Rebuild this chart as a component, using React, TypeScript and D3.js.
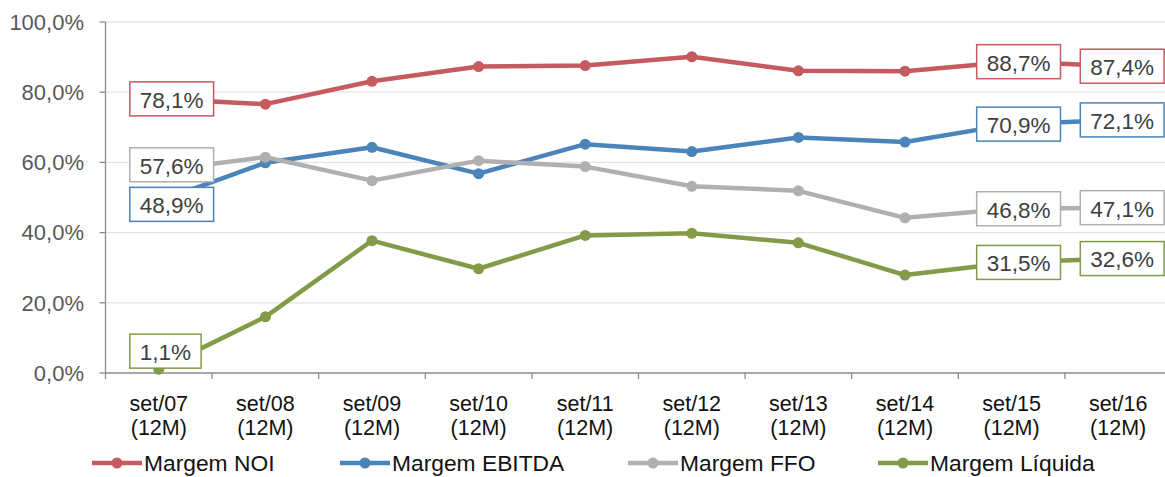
import React, { useEffect, useRef } from "react";
import * as d3 from "d3";

const categories = ["set/07", "set/08", "set/09", "set/10", "set/11", "set/12", "set/13", "set/14", "set/15", "set/16"];
const periodLabel = "(12M)";
const yTicks = [0, 20, 40, 60, 80, 100];

const margemNOI = [78.1, 76.6, 83.1, 87.3, 87.6, 90.1, 86.1, 86.0, 88.7, 87.4];
const margemEBITDA = [48.9, 59.9, 64.3, 56.8, 65.2, 63.1, 67.1, 65.8, 70.9, 72.1];
const margemFFO = [57.6, 61.5, 54.8, 60.5, 58.8, 53.2, 51.9, 44.2, 46.8, 47.1];
const margemLiquida = [1.1, 16.0, 37.7, 29.7, 39.2, 39.8, 37.1, 27.9, 31.5, 32.6];

const seriesNames = ["Margem NOI", "Margem EBITDA", "Margem FFO", "Margem Líquida"];
const seriesColors = ["#C55A5F", "#4A84BA", "#B0B0B0", "#819B48"];
const labeledIndices = [0, 8, 9];
// vertical nudge of the first label of each series (px)
const firstLabelDy = [0, 3, -6, -18];

const fmt = (v: number) => v.toFixed(1).replace(".", ",") + "%";

export default function App() {
  const ref = useRef<SVGSVGElement | null>(null);

  useEffect(() => {
    const svg = d3.select(ref.current);
    svg.selectAll("*").remove();
    const W = 1165;
    const left = 105.5, right = 1171.5, top = 22, bottom = 373;
    const font = "Liberation Sans, Arial, sans-serif";

    const x = d3.scaleBand<string>().domain(categories).range([left, right]).padding(0);
    const cx = (i: number) => (x(categories[i]) as number) + x.bandwidth() / 2;
    const y = d3.scaleLinear().domain([0, 100]).range([bottom, top]);

    // gridlines
    svg.append("g").selectAll("line").data(yTicks.filter((t) => t > 0)).join("line")
      .attr("x1", left).attr("x2", W).attr("y1", (d) => y(d)).attr("y2", (d) => y(d))
      .attr("stroke", "#E4E4E4").attr("stroke-width", 1.3);

    // y axis
    const axisColor = "#8C8C8C";
    svg.append("line").attr("x1", left).attr("x2", left).attr("y1", top).attr("y2", bottom)
      .attr("stroke", axisColor).attr("stroke-width", 1.3);
    svg.append("g").selectAll("line").data(yTicks).join("line")
      .attr("x1", left - 6).attr("x2", left).attr("y1", (d) => y(d)).attr("y2", (d) => y(d))
      .attr("stroke", axisColor).attr("stroke-width", 1.3);
    svg.append("g").selectAll("text").data(yTicks).join("text")
      .attr("x", 84).attr("y", (d) => y(d)).attr("dy", "0.35em")
      .attr("text-anchor", "end").attr("font-family", font).attr("font-size", 22)
      .attr("fill", "#595959").text((d) => d.toFixed(1).replace(".", ",") + "%");

    // x axis
    svg.append("line").attr("x1", left).attr("x2", W).attr("y1", bottom).attr("y2", bottom)
      .attr("stroke", axisColor).attr("stroke-width", 1.3);
    const bounds = categories.map((c) => x(c) as number);
    svg.append("g").selectAll("line").data(bounds).join("line")
      .attr("x1", (d) => d).attr("x2", (d) => d).attr("y1", bottom).attr("y2", bottom + 6)
      .attr("stroke", axisColor).attr("stroke-width", 1.3);
    const xl = svg.append("g").selectAll("text").data(categories).join("text")
      .attr("x", (_d, i) => cx(i)).attr("text-anchor", "middle")
      .attr("font-family", font).attr("font-size", 21.5).attr("fill", "#111");
    xl.append("tspan").attr("x", (_d, i) => cx(i)).attr("y", 411).text((d) => d);
    xl.append("tspan").attr("x", (_d, i) => cx(i)).attr("y", 435).text(periodLabel);

    const allSeries = [margemNOI, margemEBITDA, margemFFO, margemLiquida];
    const line = d3.line<number>().x((_d, i) => cx(i)).y((d) => y(d));

    allSeries.forEach((vals, s) => {
      const g = svg.append("g");
      g.append("path").attr("d", line(vals) as string).attr("fill", "none")
        .attr("stroke", seriesColors[s]).attr("stroke-width", 4.5).attr("stroke-linejoin", "round");
      g.selectAll("circle").data(vals).join("circle")
        .attr("cx", (_d, i) => cx(i)).attr("cy", (d) => y(d)).attr("r", 5.5)
        .attr("fill", seriesColors[s]);
    });

    // labels
    allSeries.forEach((vals, s) => {
      labeledIndices.forEach((i) => {
        const g = svg.append("g");
        const t = g.append("text").attr("font-family", font).attr("font-size", 22.5)
          .attr("fill", "#404040").attr("text-anchor", "middle").attr("dy", "0.35em")
          .text(fmt(vals[i]));
        const w = (t.node() as SVGTextElement).getComputedTextLength() + 20;
        const h = 34;
        let centerX: number;
        let centerY = y(vals[i]);
        if (i === 0) {
          centerX = cx(i) - 29 + w / 2;
          centerY += firstLabelDy[s];
        } else if (i === 8) {
          centerX = cx(i) + 7;
        } else {
          centerX = cx(i) + 4;
        }
        t.attr("x", centerX).attr("y", centerY + 1);
        g.insert("rect", "text").attr("x", centerX - w / 2).attr("y", centerY - h / 2)
          .attr("width", w).attr("height", h).attr("fill", "#fff")
          .attr("stroke", seriesColors[s]).attr("stroke-width", 1.5);
      });
    });

    // legend
    const legendX = [92, 340, 628, 878];
    const ly = 463;
    seriesNames.forEach((name, s) => {
      const g = svg.append("g");
      const x0 = legendX[s];
      g.append("line").attr("x1", x0).attr("x2", x0 + 50).attr("y1", ly).attr("y2", ly)
        .attr("stroke", seriesColors[s]).attr("stroke-width", 4.5);
      g.append("circle").attr("cx", x0 + 25).attr("cy", ly).attr("r", 5.5).attr("fill", seriesColors[s]);
      g.append("text").attr("x", x0 + 52).attr("y", ly).attr("dy", "0.35em")
        .attr("font-family", font).attr("font-size", 22.8).attr("fill", "#111").text(name);
    });
  }, []);

  return (
    <svg ref={ref} width={1165} height={477}
      style={{ position: "absolute", left: 0, top: 0, background: "#fff" }} />
  );
}
